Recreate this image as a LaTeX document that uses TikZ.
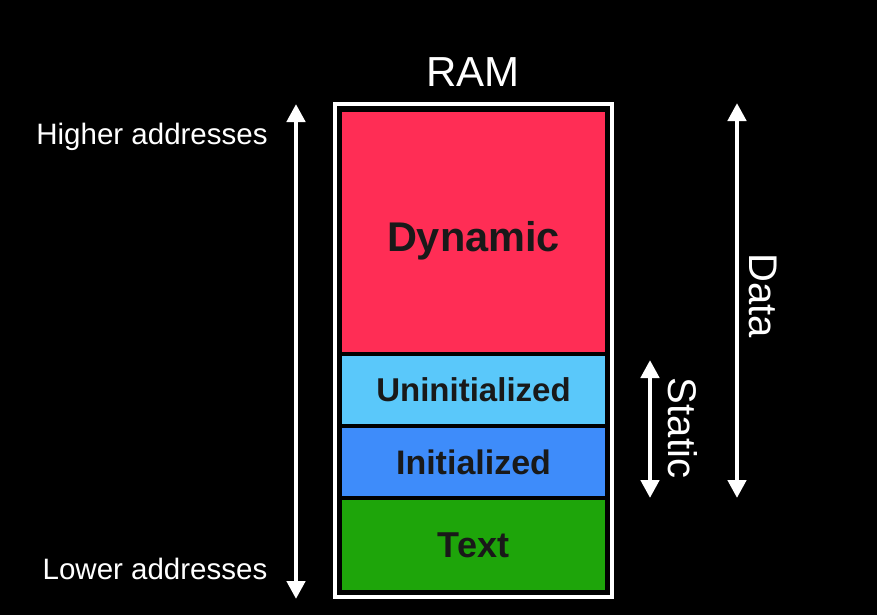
\documentclass[tikz,border=0pt]{standalone}
\usepackage{fontspec}
\setmainfont{Liberation Sans}
\usetikzlibrary{arrows.meta}
\definecolor{dynred}{RGB}{255,45,85}
\definecolor{uniblue}{RGB}{90,200,250}
\definecolor{iniblue}{RGB}{62,140,250}
\definecolor{txtgreen}{RGB}{30,165,10}
\definecolor{labdark}{RGB}{25,25,25}

\begin{document}
\begin{tikzpicture}[x=1pt,y=-1pt,
  seg/.style={draw=none,minimum width=263pt,inner sep=0pt,text=labdark,font=\bfseries},
  dbl/.style={white,line width=4.5pt,{Triangle[width=18pt,length=18pt]}-{Triangle[width=18pt,length=18pt]}},
  lab/.style={white,inner sep=0pt}]
\fill[black] (0,0) rectangle (877,615);
\useasboundingbox (0,0) rectangle (877,615);
% memory frame
\draw[white,line width=4pt] (335,104) rectangle (612,597);
\node[seg,fill=dynred,minimum height=240pt] (dyn) at (473.5,232) {};
\node[text=labdark,inner sep=0pt,font=\bfseries\fontsize{41.5}{48}\selectfont] (dynlab) at ([yshift=-9pt]dyn.center) {Dynamic};
\node[seg,fill=uniblue,minimum height=68pt,font=\bfseries\fontsize{33}{40}\selectfont] (unini) at (473.5,390) {Uninitialized};
\node[seg,fill=iniblue,minimum height=68pt,font=\bfseries\fontsize{34}{40}\selectfont] (ini) at (473.5,462) {Initialized};
\node[seg,fill=txtgreen,minimum height=90pt,font=\bfseries\fontsize{36}{42}\selectfont] (text) at (473.5,545) {Text};
\node[lab,font=\fontsize{42}{48}\selectfont] (ram) at (473,72) {RAM};
% addresses
\coordinate (hi) at (296,104);
\coordinate (lo) at (296,599);
\draw[dbl] (lo) -- (hi);
\node[lab,font=\fontsize{29.5}{34}\selectfont] (hiaddr) at (152,137) {Higher addresses};
\node[lab,font=\fontsize{29.5}{34}\selectfont] (loaddr) at (155,569) {Lower addresses};
% static and data
\coordinate (stattop) at (650,360);
\coordinate (statbot) at (650,498);
\draw[dbl] (statbot) -- (stattop);
\node[lab,rotate=-90,font=\fontsize{40}{46}\selectfont] (static) at (683,428) {Static};
\coordinate (datatop) at (737,103);
\coordinate (databot) at (737,498);
\draw[dbl] (databot) -- (datatop);
\node[lab,rotate=-90,font=\fontsize{40}{46}\selectfont] (data) at (763,296) {Data};
\end{tikzpicture}
\end{document}
